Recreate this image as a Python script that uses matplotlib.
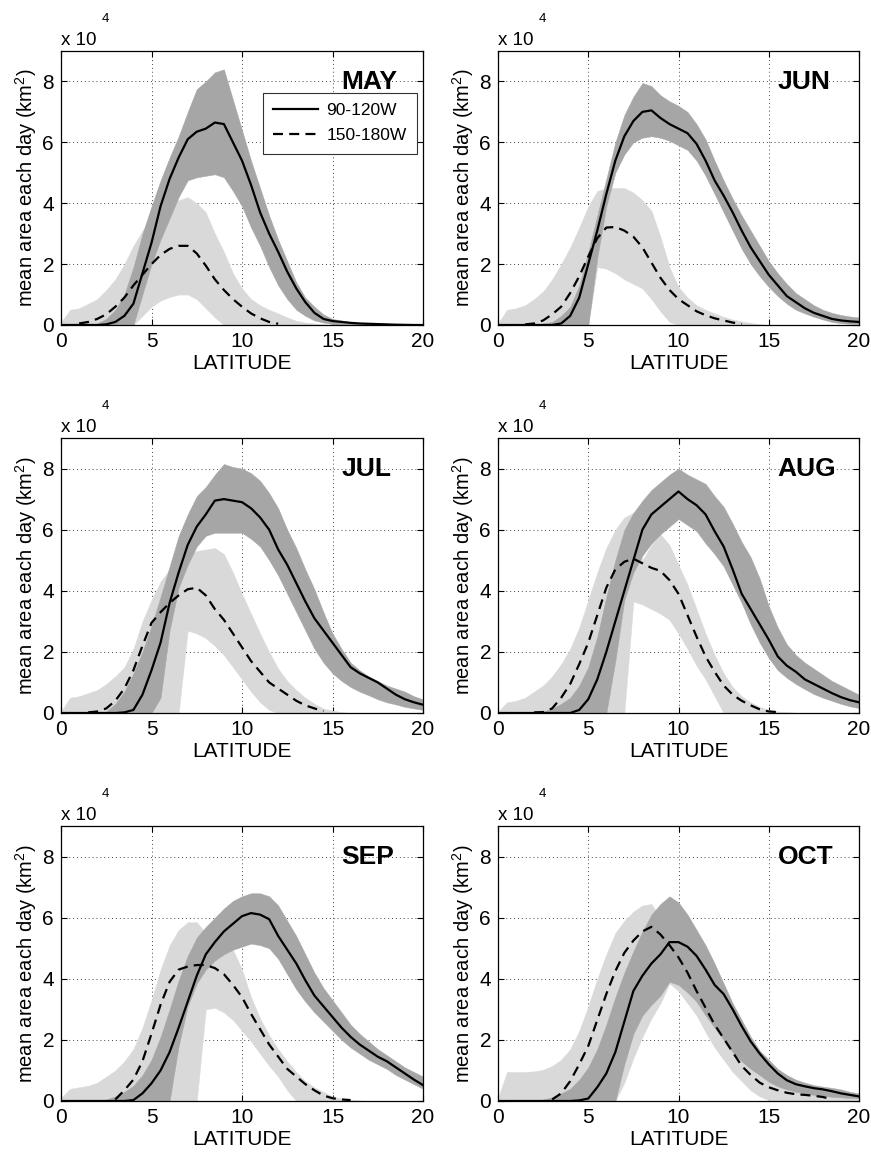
import numpy as np
import matplotlib
matplotlib.use('Agg')
import matplotlib.pyplot as plt

plt.rcParams['font.family'] = ['Liberation Sans', 'DejaVu Sans']
plt.rcParams['mathtext.fontset'] = 'custom'
plt.rcParams['mathtext.rm'] = 'Liberation Sans'
plt.rcParams['mathtext.it'] = 'Liberation Sans:italic'
plt.rcParams['mathtext.bf'] = 'Liberation Sans:bold'

nan = np.nan

LAT = [0, 0.5, 1, 1.5, 2, 2.5, 3, 3.5, 4, 4.5, 5, 5.5, 6, 6.5, 7, 7.5, 8, 8.5, 9, 9.5, 10,
       10.5, 11, 11.5, 12, 12.5, 13, 13.5, 14, 14.5, 15, 15.5, 16, 16.5, 17, 17.5, 18, 18.5, 19, 19.5, 20]

MONTHS = ["MAY", "JUN", "JUL", "AUG", "SEP", "OCT"]
SERIES_LABELS = ["90-120W", "150-180W"]
X_TICKS = [0, 5, 10, 15, 20]
Y_TICKS = [0, 2, 4, 6, 8]

# ---------------- MAY ----------------
MAY_E_MEAN = [0, 0, 0, 0, 0, 0.02, 0.1, 0.3, 0.7, 1.7, 2.7, 3.9, 4.8, 5.5, 6.1, 6.35, 6.45, 6.65, 6.6, 6.0, 5.4,
              4.6, 3.7, 3.0, 2.4, 1.75, 1.2, 0.75, 0.4, 0.2, 0.13, 0.1, 0.07, 0.05, 0.04, 0.03, 0.02, 0.01, 0.005, 0, 0]
MAY_E_HI = [0, 0, 0, 0.02, 0.05, 0.2, 0.5, 1.0, 1.9, 3.0, 3.9, 4.75, 5.5, 6.2, 7.0, 7.75, 8.0, 8.3, 8.4, 7.4, 6.4,
            5.4, 4.5, 3.6, 2.8, 2.1, 1.4, 0.9, 0.6, 0.35, 0.2, 0.15, 0.1, 0.07, 0.05, 0.04, 0.03, 0.02, 0.01, 0.005, 0]
MAY_E_LO = [0, 0, 0, 0, 0, 0, 0, 0, 0, 1.0, 2.0, 2.8, 3.5, 4.2, 4.75, 4.85, 4.9, 4.95, 4.85, 4.4, 3.9,
            3.2, 2.6, 1.9, 1.3, 0.85, 0.5, 0.3, 0.15, 0.08, 0.03, 0, 0, 0, 0, 0, 0, 0, 0, 0, 0]
MAY_W_MEAN = [nan, nan, 0.05, 0.1, 0.2, 0.35, 0.6, 0.9, 1.3, 1.65, 2.0, 2.3, 2.5, 2.6, 2.6, 2.35, 1.95, 1.5, 1.15, 0.85, 0.6,
              0.38, 0.22, 0.1, 0.04, nan, nan, nan, nan, nan, nan, nan, nan, nan, nan, nan, nan, nan, nan, nan, nan]
MAY_W_HI = [0.1, 0.5, 0.55, 0.7, 0.85, 1.15, 1.5, 2.0, 2.6, 3.1, 3.5, 3.8, 4.0, 4.1, 4.2, 4.0, 3.7, 3.0, 2.4, 1.7, 1.2,
            0.85, 0.65, 0.5, 0.38, 0.25, 0.14, 0.08, 0.05, 0.02, 0, 0, 0, 0, 0, 0, 0, 0, 0, 0, 0]
MAY_W_LO = [0, 0, 0, 0, 0, 0, 0, 0, 0, 0.3, 0.6, 0.8, 0.92, 1.0, 1.0, 0.85, 0.55, 0.25, 0, 0, 0,
            0, 0, 0, 0, 0, 0, 0, 0, 0, 0, 0, 0, 0, 0, 0, 0, 0, 0, 0, 0]

# ---------------- JUN ----------------
JUN_E_MEAN = [0, 0, 0, 0, 0, 0, 0, 0.05, 0.3, 0.9, 2.0, 3.1, 4.3, 5.4, 6.2, 6.7, 7.0, 7.05, 6.8, 6.6, 6.45,
              6.3, 5.95, 5.4, 4.75, 4.25, 3.7, 3.1, 2.55, 2.1, 1.65, 1.3, 0.95, 0.75, 0.55, 0.4, 0.3, 0.2, 0.15, 0.12, 0.1]
JUN_E_HI = [0, 0, 0, 0, 0, 0.05, 0.1, 0.3, 0.6, 1.3, 2.4, 3.6, 4.8, 6.0, 6.9, 7.5, 7.95, 7.85, 7.55, 7.35, 7.2,
            7.0, 6.6, 6.1, 5.4, 4.75, 4.15, 3.6, 3.1, 2.6, 2.1, 1.7, 1.35, 1.05, 0.85, 0.65, 0.5, 0.4, 0.33, 0.28, 0.25]
JUN_E_LO = [0, 0, 0, 0, 0, 0, 0, 0, 0, 0, 0, 2.2, 3.9, 5.0, 5.6, 6.0, 6.15, 6.2, 6.15, 6.05, 5.9,
            5.75, 5.4, 4.9, 4.3, 3.7, 3.1, 2.5, 2.0, 1.6, 1.25, 0.95, 0.7, 0.5, 0.38, 0.27, 0.18, 0.1, 0.06, 0.04, 0.03]
JUN_W_MEAN = [nan, nan, nan, 0.02, 0.05, 0.15, 0.35, 0.6, 1.05, 1.6, 2.25, 2.85, 3.2, 3.22, 3.1, 2.9, 2.55, 2.05, 1.55, 1.15, 0.85,
              0.65, 0.45, 0.32, 0.22, 0.15, 0.08, 0.03, nan, nan, nan, nan, nan, nan, nan, nan, nan, nan, nan, nan, nan]
JUN_W_HI = [0.05, 0.5, 0.55, 0.65, 0.85, 1.1, 1.5, 2.0, 2.55, 3.2, 3.9, 4.4, 4.5, 4.5, 4.5, 4.35, 4.1, 3.75, 2.9, 1.9, 1.25,
            0.9, 0.65, 0.5, 0.38, 0.27, 0.18, 0.12, 0.07, 0.03, 0, 0, 0, 0, 0, 0, 0, 0, 0, 0, 0]
JUN_W_LO = [0, 0, 0, 0, 0, 0, 0, 0, 0, 0, 0, 1.9, 1.85, 1.7, 1.5, 1.35, 1.2, 0.85, 0.45, 0.1, 0,
            0, 0, 0, 0, 0, 0, 0, 0, 0, 0, 0, 0, 0, 0, 0, 0, 0, 0, 0, 0]

# ---------------- JUL ----------------
JUL_E_MEAN = [0, 0, 0, 0, 0, 0, 0, 0.02, 0.1, 0.6, 1.4, 2.3, 3.6, 4.6, 5.5, 6.1, 6.5, 6.95, 7.0, 6.95, 6.9,
              6.7, 6.4, 6.0, 5.35, 4.85, 4.25, 3.65, 3.1, 2.7, 2.3, 1.9, 1.5, 1.3, 1.15, 1.0, 0.8, 0.6, 0.45, 0.35, 0.27]
JUL_E_HI = [0, 0, 0, 0, 0, 0.05, 0.3, 0.7, 1.3, 2.0, 2.85, 3.8, 4.8, 5.8, 6.5, 7.1, 7.4, 7.8, 8.15, 8.05, 8.0,
            7.85, 7.6, 7.2, 6.7, 6.0, 5.4, 4.7, 4.05, 3.3, 2.6, 2.1, 1.65, 1.4, 1.2, 1.05, 0.9, 0.8, 0.7, 0.55, 0.45]
JUL_E_LO = [0, 0, 0, 0, 0, 0, 0, 0, 0, 0, 0, 0.5, 2.7, 4.1, 4.85, 5.45, 5.8, 5.9, 5.9, 5.9, 5.9,
            5.7, 5.45, 5.0, 4.5, 3.9, 3.3, 2.7, 2.1, 1.65, 1.3, 1.05, 0.85, 0.7, 0.58, 0.45, 0.35, 0.28, 0.2, 0.15, 0.1]
JUL_W_MEAN = [nan, nan, nan, 0.02, 0.05, 0.15, 0.4, 0.8, 1.4, 2.2, 2.95, 3.3, 3.6, 3.85, 4.05, 4.1, 3.85, 3.4, 3.05, 2.6, 2.15,
              1.7, 1.35, 1.0, 0.8, 0.6, 0.4, 0.25, 0.15, 0.06, nan, nan, nan, nan, nan, nan, nan, nan, nan, nan, nan]
JUL_W_HI = [0.05, 0.5, 0.55, 0.65, 0.75, 0.95, 1.2, 1.5, 2.1, 3.0, 3.7, 4.3, 4.7, 5.0, 5.2, 5.3, 5.35, 5.4, 5.2, 4.6, 3.9,
            3.25, 2.6, 2.0, 1.45, 1.05, 0.75, 0.5, 0.3, 0.15, 0.08, 0.03, 0, 0, 0, 0, 0, 0, 0, 0, 0]
JUL_W_LO = [0, 0, 0, 0, 0, 0, 0, 0, 0, 0, 0, 0, 0, 0, 2.7, 2.6, 2.45, 2.2, 1.9, 1.5, 1.1,
            0.7, 0.35, 0.1, 0, 0, 0, 0, 0, 0, 0, 0, 0, 0, 0, 0, 0, 0, 0, 0, 0]

# ---------------- AUG ----------------
AUG_E_MEAN = [0, 0, 0, 0, 0, 0, 0, 0, 0, 0.1, 0.45, 1.1, 2.0, 3.0, 4.0, 5.0, 6.0, 6.5, 6.75, 7.0, 7.25,
              7.0, 6.8, 6.5, 5.95, 5.45, 4.7, 3.9, 3.4, 2.9, 2.4, 1.85, 1.55, 1.35, 1.1, 0.95, 0.8, 0.65, 0.52, 0.42, 0.35]
AUG_E_HI = [0, 0, 0, 0, 0, 0.05, 0.15, 0.3, 0.5, 0.9, 1.5, 2.5, 3.8, 5.0, 6.0, 6.55, 6.95, 7.3, 7.55, 7.8, 8.0,
            7.8, 7.65, 7.5, 7.1, 6.75, 6.2, 5.6, 5.1, 4.4, 3.5, 2.8, 2.25, 1.9, 1.65, 1.45, 1.25, 1.05, 0.9, 0.75, 0.6]
AUG_E_LO = [0, 0, 0, 0, 0, 0, 0, 0, 0, 0, 0, 0, 0, 1.7, 3.7, 4.6, 5.15, 5.55, 5.85, 6.1, 6.35,
            6.15, 5.95, 5.55, 5.2, 4.8, 4.2, 3.6, 2.9, 2.3, 1.8, 1.4, 1.15, 0.95, 0.78, 0.62, 0.5, 0.4, 0.3, 0.22, 0.16]
AUG_W_MEAN = [nan, nan, nan, nan, 0.02, 0.03, 0.15, 0.5, 0.95, 1.6, 2.3, 3.2, 4.1, 4.7, 4.95, 5.05, 4.9, 4.75, 4.65, 4.35, 3.9,
              3.2, 2.5, 1.85, 1.35, 0.9, 0.6, 0.4, 0.25, 0.12, 0.05, 0.03, nan, nan, nan, nan, nan, nan, nan, nan, nan]
AUG_W_HI = [0.05, 0.35, 0.4, 0.5, 0.7, 0.9, 1.2, 1.6, 2.1, 2.8, 3.7, 4.6, 5.4, 6.0, 6.4, 6.55, 5.0, 5.5, 5.85, 5.5, 4.85,
            4.2, 3.4, 2.6, 1.9, 1.3, 0.85, 0.55, 0.35, 0.2, 0.1, 0.05, 0.03, 0.01, 0, 0, 0, 0, 0, 0, 0]
AUG_W_LO = [0, 0, 0, 0, 0, 0, 0, 0, 0, 0, 0, 0, 0, 0, 0, 3.65, 3.55, 3.4, 3.25, 3.05, 2.6,
            2.1, 1.55, 1.1, 0.55, 0, 0, 0, 0, 0, 0, 0, 0, 0, 0, 0, 0, 0, 0, 0, 0]

# ---------------- SEP ----------------
SEP_E_MEAN = [0, 0, 0, 0, 0, 0, 0, 0, 0.03, 0.25, 0.58, 1.0, 1.6, 2.4, 3.25, 4.1, 4.8, 5.2, 5.55, 5.8, 6.05,
              6.15, 6.1, 5.95, 5.4, 4.95, 4.5, 3.95, 3.45, 3.1, 2.75, 2.4, 2.1, 1.85, 1.65, 1.45, 1.3, 1.1, 0.9, 0.7, 0.52]
SEP_E_HI = [0, 0, 0, 0, 0, 0.05, 0.15, 0.3, 0.5, 0.85, 1.35, 2.1, 3.0, 3.95, 4.75, 5.35, 5.7, 6.0, 6.3, 6.55, 6.7,
            6.8, 6.8, 6.7, 6.4, 5.9, 5.4, 4.8, 4.2, 3.7, 3.3, 2.9, 2.5, 2.2, 1.95, 1.7, 1.5, 1.3, 1.1, 0.95, 0.8]
SEP_E_LO = [0, 0, 0, 0, 0, 0, 0, 0, 0, 0, 0, 0, 0, 1.8, 3.1, 3.85, 4.3, 4.6, 4.8, 4.95, 5.05,
            5.15, 5.1, 5.0, 4.65, 4.15, 3.65, 3.25, 2.9, 2.6, 2.3, 2.0, 1.75, 1.55, 1.35, 1.2, 1.05, 0.85, 0.7, 0.55, 0.4]
SEP_W_MEAN = [nan, nan, nan, nan, nan, nan, 0.05, 0.35, 0.7, 1.3, 2.2, 3.15, 3.9, 4.3, 4.4, 4.45, 4.45, 4.35, 4.15, 3.8, 3.4,
              2.85, 2.35, 1.85, 1.45, 1.05, 0.8, 0.55, 0.35, 0.18, 0.09, 0.05, 0.03, nan, nan, nan, nan, nan, nan, nan, nan]
SEP_W_HI = [0.1, 0.4, 0.45, 0.5, 0.6, 0.8, 1.0, 1.3, 1.7, 2.4, 3.3, 4.3, 5.1, 5.6, 5.85, 5.85, 5.5, 5.2, 5.05, 4.95, 4.3,
            3.4, 2.7, 2.15, 1.7, 1.3, 0.95, 0.65, 0.45, 0.3, 0.15, 0.08, 0.04, 0.02, 0, 0, 0, 0, 0, 0, 0]
SEP_W_LO = [0, 0, 0, 0, 0, 0, 0, 0, 0, 0, 0, 0, 0, 0, 0, 0, 3.0, 3.05, 2.9, 2.65, 2.3,
            1.95, 1.55, 1.15, 0.8, 0.35, 0, 0, 0, 0, 0, 0, 0, 0, 0, 0, 0, 0, 0, 0, 0]

# ---------------- OCT ----------------
OCT_E_MEAN = [0, 0, 0, 0, 0, 0, 0, 0, 0, 0.02, 0.08, 0.45, 0.9, 1.6, 2.6, 3.6, 4.1, 4.5, 4.8, 5.2, 5.2,
              5.05, 4.75, 4.3, 3.8, 3.5, 3.0, 2.45, 1.95, 1.55, 1.2, 0.9, 0.68, 0.55, 0.48, 0.42, 0.38, 0.32, 0.25, 0.2, 0.15]
OCT_E_HI = [0, 0, 0, 0, 0, 0.05, 0.12, 0.25, 0.4, 0.7, 1.1, 1.7, 2.5, 3.4, 4.2, 4.9, 5.55, 6.1, 6.45, 6.7, 6.5,
            6.1, 5.6, 5.1, 4.5, 3.85, 3.2, 2.65, 2.1, 1.65, 1.35, 1.05, 0.85, 0.7, 0.6, 0.52, 0.47, 0.43, 0.38, 0.3, 0.25]
OCT_E_LO = [0, 0, 0, 0, 0, 0, 0, 0, 0, 0, 0, 0, 0, 0, 1.2, 2.2, 2.8, 3.15, 3.45, 3.9, 3.8,
            3.55, 3.25, 2.8, 2.4, 2.0, 1.6, 1.3, 1.05, 0.85, 0.63, 0.48, 0.38, 0.3, 0.25, 0.2, 0.17, 0.14, 0.12, 0.1, 0.09]
OCT_W_MEAN = [nan, nan, nan, nan, nan, nan, 0.05, 0.25, 0.65, 1.2, 1.8, 2.65, 3.5, 4.25, 4.85, 5.25, 5.55, 5.7, 5.45, 5.1, 4.7,
              4.2, 3.6, 3.05, 2.5, 2.05, 1.6, 1.15, 0.85, 0.6, 0.45, 0.35, 0.27, 0.22, 0.2, 0.17, 0.13, 0.06, nan, nan, nan]
OCT_W_HI = [0.1, 0.95, 0.95, 0.95, 0.97, 1.02, 1.15, 1.35, 1.7, 2.3, 3.1, 4.0, 4.8, 5.5, 5.9, 6.2, 6.4, 6.45, 6.0, 5.5, 4.6,
            4.0, 3.6, 3.2, 2.8, 2.3, 1.8, 1.4, 1.1, 0.9, 0.7, 0.55, 0.42, 0.33, 0.27, 0.22, 0.19, 0.16, 0.13, 0.11, 0.1]
OCT_W_LO = [0, 0, 0, 0, 0, 0, 0, 0, 0, 0, 0, 0, 0, 0, 0.6, 1.4, 2.1, 2.7, 3.2, 3.85, 3.6,
            3.2, 2.8, 2.25, 1.75, 1.35, 0.95, 0.65, 0.35, 0.15, 0.03, 0, 0, 0, 0, 0, 0, 0, 0, 0, 0]

PANELS = [
    (MAY_E_MEAN, MAY_E_LO, MAY_E_HI, MAY_W_MEAN, MAY_W_LO, MAY_W_HI),
    (JUN_E_MEAN, JUN_E_LO, JUN_E_HI, JUN_W_MEAN, JUN_W_LO, JUN_W_HI),
    (JUL_E_MEAN, JUL_E_LO, JUL_E_HI, JUL_W_MEAN, JUL_W_LO, JUL_W_HI),
    (AUG_E_MEAN, AUG_E_LO, AUG_E_HI, AUG_W_MEAN, AUG_W_LO, AUG_W_HI),
    (SEP_E_MEAN, SEP_E_LO, SEP_E_HI, SEP_W_MEAN, SEP_W_LO, SEP_W_HI),
    (OCT_E_MEAN, OCT_E_LO, OCT_E_HI, OCT_W_MEAN, OCT_W_LO, OCT_W_HI),
]

DARK = '#a6a6a6'
LIGHT = '#d9d9d9'

W, H = 871, 1163
fig = plt.figure(figsize=(W / 100, H / 100), dpi=100)

cols = [(61, 423), (498, 859)]
rows = [(51, 325), (438, 713), (826, 1101)]

for i, (month, data) in enumerate(zip(MONTHS, PANELS)):
    e_mean, e_lo, e_hi, w_mean, w_lo, w_hi = data
    r, c = divmod(i, 2)
    x0, x1 = cols[c]
    y0, y1 = rows[r]
    ax = fig.add_axes([x0 / W, 1 - y1 / H, (x1 - x0) / W, (y1 - y0) / H])
    ax.set_axisbelow(True)
    ax.fill_between(LAT, w_lo, w_hi, color=LIGHT, lw=0.3, edgecolor=LIGHT, zorder=1)
    ax.fill_between(LAT, e_lo, e_hi, color=DARK, lw=0.3, edgecolor=DARK, zorder=2)
    ax.plot(LAT, w_mean, color='k', lw=1.6, ls=(0, (4.5, 2.8)), zorder=3, label=SERIES_LABELS[1])
    ax.plot(LAT, e_mean, color='k', lw=1.6, zorder=4, label=SERIES_LABELS[0])

    ax.set_xlim(0, 20)
    ax.set_ylim(0, 9)
    ax.set_xticks(X_TICKS)
    ax.set_yticks(Y_TICKS)
    ax.grid(True, color='#444444', lw=0.7, ls=(0, (1, 3)))
    ax.tick_params(direction='in', length=4, width=0.8, top=True, right=True,
                   labelsize=15, pad=5)
    for s in ax.spines.values():
        s.set_linewidth(0.9)
        s.set_zorder(6)

    ax.set_xlabel('LATITUDE', fontsize=15, labelpad=2)
    ax.set_ylabel('mean area each day (km$^{2}$)', fontsize=14.5)
    ax.yaxis.set_label_coords(-0.062, 0.5)

    ax.text(15.5, 7.75, month, fontsize=19, fontweight='bold', ha='left', va='baseline', zorder=7)
    ax.text(0.0, 1.022, 'x 10', transform=ax.transAxes, fontsize=13.5, ha='left', va='baseline')
    ax.text(0.113, 1.105, '4', transform=ax.transAxes, fontsize=9.5, ha='left', va='baseline')

    if i == 0:
        h, l = ax.get_legend_handles_labels()
        leg = ax.legend(h[::-1], l[::-1], loc='upper right', bbox_to_anchor=(0.983, 0.847),
                        borderaxespad=0, fontsize=12.5, frameon=True, fancybox=False,
                        edgecolor='#333333', framealpha=1, handlelength=2.6,
                        handletextpad=0.45, labelspacing=0.55, borderpad=0.6)
        leg.get_frame().set_linewidth(0.8)
        leg.set_zorder(8)

fig.savefig('out.png', dpi=100)
